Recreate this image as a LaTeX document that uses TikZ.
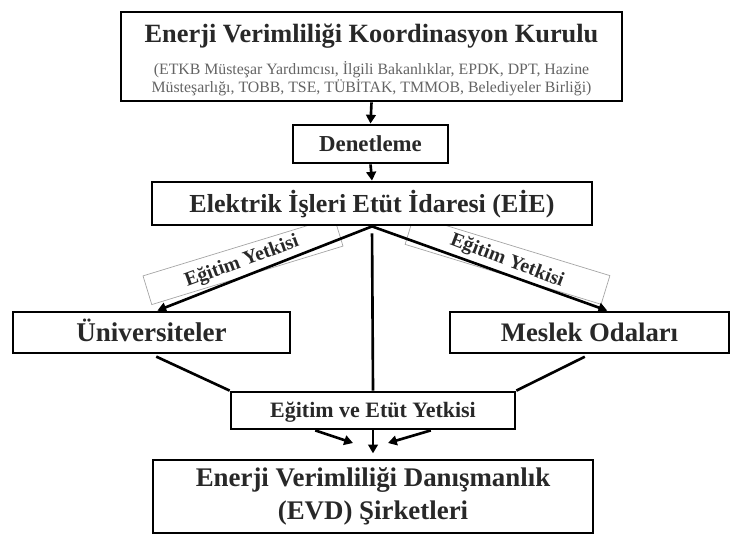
\documentclass[tikz,border=0pt]{standalone}
\usepackage{fontspec}
\setmainfont{Liberation Serif}
\usetikzlibrary{arrows.meta}
\definecolor{txtgray}{RGB}{40,40,40}
\definecolor{subgray}{RGB}{100,100,100}
\definecolor{lblgray}{RGB}{165,165,165}
\begin{document}
\begin{tikzpicture}[x=0.02cm,y=-0.02cm,
  box/.style={draw=black,fill=white,line width=1.6pt,inner sep=0pt,align=center,text=txtgray,font=\bfseries},
  one/.style={text height=#1,text depth=0pt},
  lblframe/.style={draw=lblgray,line width=0.4pt,inner sep=0pt,minimum height=0.6cm},
  lbltext/.style={inner sep=0pt,text=txtgray,font=\bfseries\fontsize{11.3}{13}\selectfont},
  link/.style={draw=black,line width=1.5pt},
  arr/.style={link,-{Triangle[length=5pt,width=5.5pt]}}]
\useasboundingbox (0,0) rectangle (733,536);
\node[lblframe,rotate=17,minimum width=4cm] (frameU) at (243,261) {};
\node[lblframe,rotate=-17,minimum width=4.1cm] (frameM) at (507.5,260) {};
\node[box,minimum width=10.02cm,minimum height=1.78cm] (kurul) at (371.5,56.5)
  {\fontsize{15}{18}\selectfont\rule{0pt}{14.5pt}Enerji Verimliliği Koordinasyon Kurulu\\[6pt]
   {\mdseries\color{subgray}\fontsize{9}{9}\selectfont (ETKB Müsteşar Yardımcısı, İlgili Bakanlıklar, EPDK, DPT, Hazine}\\[-1.5pt]
   {\mdseries\color{subgray}\fontsize{9}{9}\selectfont Müsteşarlığı, TOBB, TSE, TÜBİTAK, TMMOB, Belediyeler Birliği)}};
\node[box,one=8.6pt,minimum width=3.1cm,minimum height=0.76cm,font=\bfseries\fontsize{13}{15}\selectfont] (denetim) at (370.5,144) {Denetleme};
\node[box,one=9.8pt,minimum width=8.8cm,minimum height=0.86cm,font=\bfseries\fontsize{14.8}{17}\selectfont] (eie) at (372,203.5) {Elektrik İşleri Etüt İdaresi (EİE)};
\node[box,one=10pt,minimum width=5.54cm,minimum height=0.82cm,font=\bfseries\fontsize{15.4}{17}\selectfont] (univ) at (151.5,332.5) {Üniversiteler};
\node[box,one=10pt,minimum width=5.58cm,minimum height=0.82cm,font=\bfseries\fontsize{15.2}{17}\selectfont] (meslek) at (589.5,332.5) {Meslek Odaları};
\node[box,one=8.3pt,minimum width=5.68cm,minimum height=0.74cm,font=\bfseries\fontsize{12.5}{14}\selectfont] (yetki) at (373,410.5) {Eğitim ve Etüt Yetkisi};
\node[box,minimum width=8.8cm,minimum height=1.46cm,font=\bfseries\fontsize{15.3}{19}\selectfont] (evd) at (373,496.5) {Enerji Verimliliği Danışmanlık\\(EVD) Şirketleri};
\node[lbltext,rotate=20] (lblU) at (242,262) {Eğitim Yetkisi};
\node[lbltext,rotate=-21] (lblM) at (507,261) {Eğitim Yetkisi};
\coordinate (tipL) at (353,443);
\coordinate (tipR) at (388,443);
\draw[arr] (kurul.south) -- (denetim.north);
\draw[arr] (denetim.south) -- (eie.north);
\draw[arr] (eie.south) -- (univ.75);
\draw[arr] (eie.south) -- (meslek.51);
\draw[link,shorten <=4pt] (eie.south) -- (yetki.north);
\draw[link,shorten <=3pt] (univ.south) -- (yetki.north west);
\draw[link,shorten <=3pt] (meslek.south) -- (yetki.north east);
\draw[arr,shorten >=3pt] (yetki.south) -- (evd.north);
\draw[arr] (yetki.-161) -- (tipL);
\draw[arr] (yetki.-19) -- (tipR);
\end{tikzpicture}
\end{document}
